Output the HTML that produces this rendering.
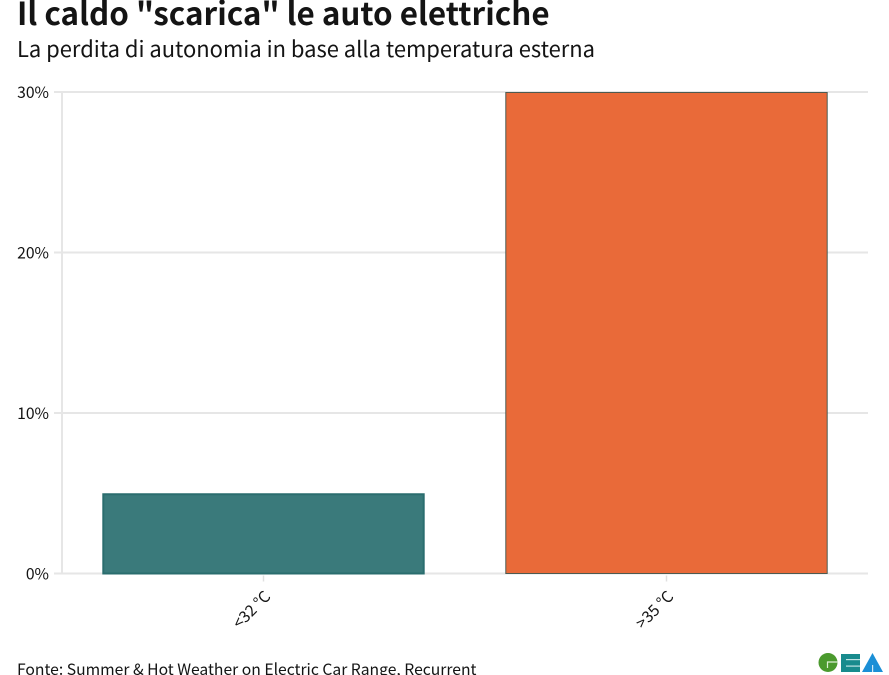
<!DOCTYPE html>
<html lang="it">
<head>
<meta charset="utf-8">
<title>Il caldo "scarica" le auto elettriche</title>
<style>
  html, body { margin: 0; padding: 0; background: #fff; }
  body { width: 889px; height: 675px; overflow: hidden; position: relative; font-family: "Noto Sans CJK JP", "Liberation Sans", sans-serif; }
  svg { position: absolute; left: 0; top: 0; }
  text { font-family: "Noto Sans CJK JP", "Liberation Sans", sans-serif; fill: #141414; }
</style>
</head>
<body>
<svg id="chart" width="889" height="675" viewBox="0 0 889 675" xmlns="http://www.w3.org/2000/svg">
  <text x="17" y="25" font-size="31.4" font-weight="700">Il caldo "scarica" le auto elettriche</text>
  <text x="17" y="57" font-size="21.95">La perdita di autonomia in base alla temperatura esterna</text>
  <g id="grid"></g>
  <g id="marks"></g>
  <g id="axes"></g>
  <text x="17" y="675" font-size="15.7">Fonte: Summer &amp; Hot Weather on Electric Car Range, Recurrent</text>
  <g>
    <circle cx="828" cy="662.5" r="9.5" fill="#4b9a2e"></circle>
    <path d="M838 662H827.500V668" stroke="#dcefd5" stroke-width="1.2" fill="none"></path>
    <rect x="841" y="654" width="19" height="18" fill="#188b8d"></rect>
    <rect x="846" y="659" width="14" height="1.2" fill="#bfe3e3"></rect>
    <rect x="846" y="665.500" width="14" height="1.2" fill="#bfe3e3"></rect>
    <path d="M862 672L872.500 653L883 672Z" fill="#1b8fd6"></path>
    <rect x="872" y="665" width="1.2" height="7" fill="#cfe9f8"></rect>
  </g>
</svg>
<script>
const categories = ['<32 °C', '>35 °C'];
const rangeLoss = [5, 30];
const barFills = ['#3a7a7b', '#e96a39'];
const barStrokes = ['#2a6d6e', '#4d5a50'];
const barStrokeWidths = [2, 1];
const yTicks = [0, 10, 20, 30];

const NS = 'http://www.w3.org/2000/svg';
const plotLeft = 62, plotRight = 868, plotTop = 92, plotBottom = 573.5;
const yMax = 30;
const yScale = v => plotBottom - (v / yMax) * (plotBottom - plotTop);
const step = (plotRight - plotLeft) / categories.length;
const xCenter = i => plotLeft + step * (i + 0.5);
const barWidth = step * 0.8;

function make(tag, attrs, parent) {
  const el = document.createElementNS(NS, tag);
  Object.keys(attrs).forEach(k => el.setAttribute(k, attrs[k]));
  parent.appendChild(el);
  return el;
}

const grid = document.getElementById('grid');
const marks = document.getElementById('marks');
const axes = document.getElementById('axes');

yTicks.forEach(t => {
  const y = yScale(t);
  const line = make('line', { x1: 54, x2: plotRight, y1: y, y2: y, stroke: '#e6e6e6', 'stroke-width': 2 }, grid);
  
  
  const label = make('text', { x: 49, y: y + 6, 'text-anchor': 'end', 'font-size': 15.7 }, axes);
  label.textContent = t + '%';
  
  
});

const yAxis = make('line', { x1: plotLeft, x2: plotLeft, y1: plotTop, y2: plotBottom, stroke: '#e6e6e6', 'stroke-width': 2 }, grid);



categories.forEach((c, i) => {
  const cx = xCenter(i);
  const inset = barStrokeWidths[i] / 2;
  const top = yScale(rangeLoss[i]) + inset;
  const bar = make('rect', { x: cx - barWidth / 2 + inset, y: top, width: barWidth - inset * 2, height: plotBottom - top, fill: barFills[i], stroke: barStrokes[i], 'stroke-width': barStrokeWidths[i] }, marks);
  
  

  const tick = make('line', { x1: cx, x2: cx, y1: plotBottom + 2, y2: plotBottom + 8, stroke: '#e0e0e0', 'stroke-width': 1.5 }, axes);
  
  

  const label = make('text', { x: 0, y: 0, 'text-anchor': 'end', 'font-size': 15.7, transform: 'translate(' + (cx + 8) + ' ' + (plotBottom + 24) + ') rotate(-45)' }, axes);
  label.textContent = c;
  
  
});
</script>
</body>
</html>
